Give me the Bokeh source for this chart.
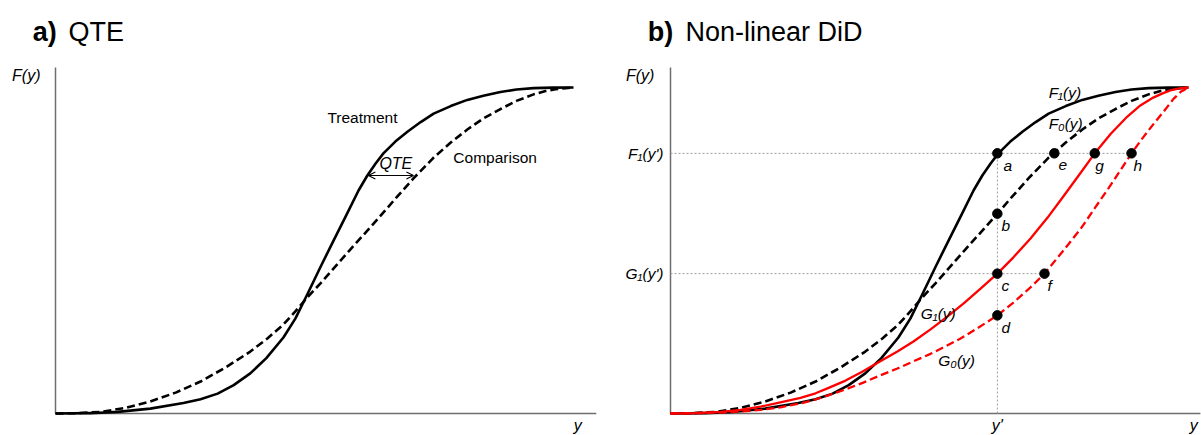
from bokeh.plotting import figure
from bokeh.layouts import row
from bokeh.models import Range1d, Arrow, OpenHead
from bokeh.core.properties import value
from bokeh.embed import file_html
from bokeh.resources import INLINE

# ---------------- data (unit scale 0..1) ----------------
# Treatment / F1(y)
F1_x = [0, .068, .120, .183, .247, .280, .313, .344, .376, .407, .440, .463, .486, .512, .537, .560,
        .585, .602, .618, .633, .656, .680, .705, .730, .763, .795, .826, .859, .890, .923, .961, 1.0]
F1_y = [0, .001, .005, .015, .032, .044, .061, .087, .123, .170, .233, .291, .365, .451, .531, .604,
        .684, .730, .767, .798, .834, .865, .894, .920, .943, .962, .975, .986, .994, .998, .9997, 1.0]
# Comparison / F0(y)
F0_x = [0, .039, .087, .135, .183, .232, .280, .328, .376, .409, .440, .463, .486, .512, .537, .569,
        .602, .631, .660, .691, .730, .763, .795, .826, .859, .890, .923, .946, .965, .985, 1.0]
F0_y = [0, .001, .005, .017, .037, .064, .098, .141, .190, .230, .273, .313, .356, .400, .445, .503,
        .561, .613, .666, .721, .785, .831, .871, .905, .934, .959, .979, .989, .995, .998, 1.0]
# G1(y)
G1_x = [0, .048, .097, .135, .174, .212, .251, .280, .303, .338, .371, .405, .438, .469, .502, .535,
        .566, .598, .631, .662, .695, .728, .759, .788, .819, .850, .882, .907, .932, .950, .965, .985, 1.0]
G1_y = [0, .001, .005, .011, .021, .034, .048, .062, .077, .101, .129, .160, .190, .221, .258, .298,
        .338, .382, .429, .479, .537, .601, .667, .730, .798, .858, .911, .945, .969, .982, .991, .998, 1.0]
# G0(y)
G0_x = [0, .048, .097, .135, .174, .212, .251, .280, .303, .338, .371, .405, .438, .469, .502, .531,
        .560, .589, .631, .662, .695, .722, .757, .792, .820, .849, .871, .890, .911, .932, .952, .971, .986, 1.0]
G0_y = [0, .001, .003, .006, .011, .019, .031, .043, .055, .074, .094, .117, .138, .160, .183, .206,
        .230, .258, .301, .340, .387, .429, .497, .567, .632, .699, .752, .798, .844, .887, .926, .965, .988, 1.0]

# QTE arrow (at quantile level)
qte_level = 0.730
qte_x = [0.604, 0.691]

# Non-linear DiD points
y_prime = 0.631
F1_yp = 0.798
G1_yp = 0.429
pt_labels = ["a", "b", "c", "d", "e", "f", "g", "h"]
pt_x = [0.631, 0.631, 0.631, 0.631, 0.741, 0.722, 0.819, 0.890]
pt_y = [0.798, 0.613, 0.429, 0.301, 0.798, 0.429, 0.798, 0.798]
ytick_labels = ["F\u2081(y')", "G\u2081(y')"]
ytick_vals = [F1_yp, G1_yp]

# ---------------- layout ----------------
FONT = "Liberation Sans"
SX, SY = 518.0, 326.0
H = 435
AXIS_COL = "#6e6e6e"
GUIDE_COL = "#9a9a9a"
RED = "#ff0000"
LAB = "15.5px"


def make_fig(width, page_left, origin_px):
    p = figure(width=width, height=H, output_backend="svg", toolbar_location=None,
               x_range=Range1d((page_left - origin_px) / SX, (page_left + width - origin_px) / SX),
               y_range=Range1d((413 - 435) / SY, (413 - 0) / SY),
               min_border=0, outline_line_color=None)
    p.axis.visible = False
    p.grid.visible = False
    p.background_fill_color = "white"
    p.border_fill_color = "white"
    return p


def txt(p, x, y, s, size=LAB, style="italic", align="left", baseline="middle", color="black"):
    p.text(x=[x], y=[y], text=[s], text_font=value(FONT), text_font_size=size,
           text_font_style=style, text_align=align, text_baseline=baseline, text_color=color)


# ---------------- panel a ----------------
pa = make_fig(600, 0, 55)
pa.line([0, 0], [0, 1.061], line_color=AXIS_COL, line_width=1.5)
pa.line([0, 1.044], [0, 0], line_color=AXIS_COL, line_width=1.5)
pa.line(F0_x, F0_y, line_color="black", line_width=2.6, line_dash="8 4", line_join="round")
pa.line(F1_x, F1_y, line_color="black", line_width=2.6, line_join="round")
pa.add_layout(Arrow(x_start=qte_x[0], y_start=qte_level, x_end=qte_x[1], y_end=qte_level,
                    line_width=1.2, line_color="black",
                    start=OpenHead(size=7, line_width=1.2), end=OpenHead(size=7, line_width=1.2)))
txt(pa, 0.657, 0.767, "QTE", size="16px", align="center")
txt(pa, 0.525, 0.908, "Treatment", style="normal")
txt(pa, 0.768, 0.785, "Comparison", style="normal")
txt(pa, -0.029, 1.037, "F(y)", align="right", size="16px")
txt(pa, 1.008, -0.037, "y", align="center", size="16px")
txt(pa, -0.044, 1.169, "a)", size="27px", style="bold", baseline="alphabetic")
txt(pa, 0.025, 1.169, "QTE", size="27px", style="normal", baseline="alphabetic")

# ---------------- panel b ----------------
pb = make_fig(601, 600, 670)
pb.line([0, 0], [0, 1.061], line_color=AXIS_COL, line_width=1.5)
pb.line([0, 1.023], [0, 0], line_color=AXIS_COL, line_width=1.5)
# guides
pb.line([0, pt_x[7]], [F1_yp, F1_yp], line_color=GUIDE_COL, line_width=1, line_dash="2 2")
pb.line([0, pt_x[5]], [G1_yp, G1_yp], line_color=GUIDE_COL, line_width=1, line_dash="2 2")
pb.line([y_prime, y_prime], [0, F1_yp], line_color=GUIDE_COL, line_width=1, line_dash="2 2")
# curves
pb.line(F0_x, F0_y, line_color="black", line_width=2.6, line_dash="8 4", line_join="round")
pb.line(F1_x, F1_y, line_color="black", line_width=2.6, line_join="round")
pb.line(G0_x, G0_y, line_color=RED, line_width=2.3, line_dash="8 4", line_join="round")
pb.line(G1_x, G1_y, line_color=RED, line_width=2.3, line_join="round")
pb.scatter(pt_x, pt_y, size=9.5, fill_color="black", line_color="black")
# point labels
lab_dx = {"a": 0.012, "b": 0.008, "c": 0.008, "d": 0.008, "e": 0.008, "f": 0.006, "g": 0.001, "h": 0.004}
for lab, x, y in zip(pt_labels, pt_x, pt_y):
    txt(pb, x + lab_dx[lab], y - 0.037, lab)
# curve labels
txt(pb, 0.730, 0.985, "F\u2081(y)")
txt(pb, 0.730, 0.890, "F\u2080(y)")
txt(pb, 0.483, 0.307, "G\u2081(y)")
txt(pb, 0.517, 0.163, "G\u2080(y)")
# axis labels
for lab, v in zip(ytick_labels, ytick_vals):
    txt(pb, -0.0135, v, lab, align="right")
txt(pb, y_prime, -0.037, "y'", align="center", size="16px")
txt(pb, 1.010, -0.037, "y", align="center", size="16px")
txt(pb, -0.031, 1.037, "F(y)", align="right", size="16px")
txt(pb, -0.044, 1.169, "b)", size="27px", style="bold", baseline="alphabetic")
txt(pb, 0.029, 1.169, "Non-linear DiD", size="27px", style="normal", baseline="alphabetic")

layout = row(pa, pb, spacing=0)
open("out.html", "w").write(file_html(layout, INLINE))
